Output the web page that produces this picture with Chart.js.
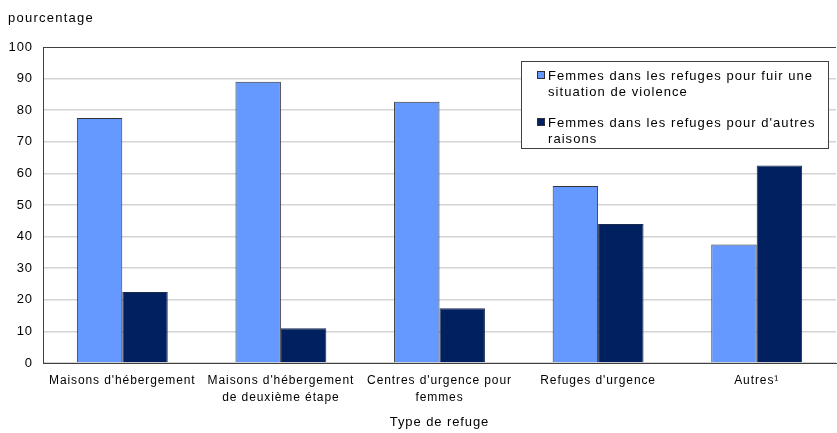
<!DOCTYPE html>
<html>
<head>
<meta charset="utf-8">
<script src="https://cdn.jsdelivr.net/npm/chart.js@4/dist/chart.umd.min.js"></script>
<style>
  html, body { margin: 0; padding: 0; background: #fff; }
  #wrap { width: 837px; height: 433px; position: relative; }
</style>
</head>
<body>
<div id="wrap"><canvas id="c" width="837" height="433"></canvas></div>
<script>
// Type de refuge (x categories)
const categories = [
  ["Maisons d'hébergement"],
  ["Maisons d'hébergement", "de deuxième étape"],
  ["Centres d'urgence pour", "femmes"],
  ["Refuges d'urgence"],
  ["Autres\u00B9"]
];
// Percentages per series
const violenceValues = [77.5, 89.0, 82.7, 56.0, 37.5];
const otherValues = [22.5, 11.0, 17.3, 44.0, 62.5];
// Legend labels (wrapped lines)
const seriesLabels = [
  ["Femmes dans les refuges pour fuir une", "situation de violence"],
  ["Femmes dans les refuges pour d'autres", "raisons"]
];
const yTicks = [0, 10, 20, 30, 40, 50, 60, 70, 80, 90, 100];

const FONT = "'Liberation Sans', Arial, sans-serif";
const SPACING = '0.9px';

const textTweaks = {
  id: 'textTweaks',
  beforeLayout(chart) { chart.ctx.letterSpacing = SPACING; },
  beforeDraw(chart) { chart.ctx.letterSpacing = SPACING; }
};

// Unit label above the value axis and the boxed, wrapped legend
const extras = {
  id: 'extras',
  afterDraw(chart) {
    const ctx = chart.ctx;
    ctx.save();
    ctx.fillStyle = '#000';
    ctx.font = '13px ' + FONT;
    ctx.textBaseline = 'alphabetic';
    ctx.textAlign = 'left';
    ctx.letterSpacing = '1.25px';
    ctx.fillText('pourcentage', 8, 22);

    // legend box
    ctx.letterSpacing = '1.05px';
    const bx = 521.5, by = 61.5, bw = 307, bh = 87;
    ctx.fillStyle = '#fff';
    ctx.fillRect(bx, by, bw, bh);
    ctx.strokeStyle = '#404040';
    ctx.lineWidth = 1;
    ctx.strokeRect(bx, by, bw, bh);
    const sets = chart.data.datasets;
    const itemY = [80, 127];
    sets.forEach((ds, i) => {
      const y0 = itemY[i];
      ctx.fillStyle = ds.backgroundColor;
      ctx.fillRect(537, y0 - 9, 8, 8);
      ctx.strokeStyle = '#303030';
      ctx.strokeRect(537.5, y0 - 8.5, 7, 7);
      ctx.fillStyle = '#000';
      seriesLabels[i].forEach((line, j) => {
        ctx.fillText(line, 548, y0 + j * 16);
      });
    });
    ctx.restore();
  }
};

new Chart(document.getElementById('c'), {
  type: 'bar',
  data: {
    labels: categories,
    datasets: [
      {
        label: seriesLabels[0].join(' '),
        data: violenceValues,
        backgroundColor: '#6699ff',
        borderColor: '#333333',
        borderWidth: 1
      },
      {
        label: seriesLabels[1].join(' '),
        data: otherValues,
        backgroundColor: '#002060',
        borderColor: '#1a2a50',
        borderWidth: 1
      }
    ]
  },
  options: {
    responsive: false,
    animation: false,
    events: [],
    layout: { padding: { top: 47, right: 1, left: 0, bottom: 0 } },
    datasets: {
      bar: { categoryPercentage: 0.573, barPercentage: 1.0 }
    },
    plugins: {
      legend: { display: false },
      tooltip: { enabled: false },
      title: { display: false }
    },
    scales: {
      x: {
        grid: { display: false, drawTicks: false },
        border: { display: true, color: '#404040', width: 1 },
        ticks: {
          color: '#000',
          font: { family: FONT, size: 12, lineHeight: 1.35 },
          padding: 10,
          maxRotation: 0,
          autoSkip: false
        },
        title: {
          display: true,
          text: 'Type de refuge',
          color: '#000',
          font: { family: FONT, size: 13 },
          padding: { top: 10, bottom: 3 }
        },
        afterFit(scale) { scale.height = 70; }
      },
      y: {
        min: 0,
        max: 100,
        afterBuildTicks(scale) { scale.ticks = yTicks.map(v => ({ value: v })); },
        grid: {
          drawTicks: false,
          color: ctx => (ctx.tick && ctx.tick.value === 100 ? '#404040' : '#d4d4d4'),
          lineWidth: ctx => (ctx.tick && ctx.tick.value === 100 ? 1 : 1.5)
        },
        border: { display: true, color: '#404040', width: 1 },
        ticks: {
          color: '#000',
          font: { family: FONT, size: 13 },
          padding: 10
        },
        afterFit(scale) { scale.width = 43; }
      }
    }
  },
  plugins: [textTweaks, extras]
});
</script>
</body>
</html>
